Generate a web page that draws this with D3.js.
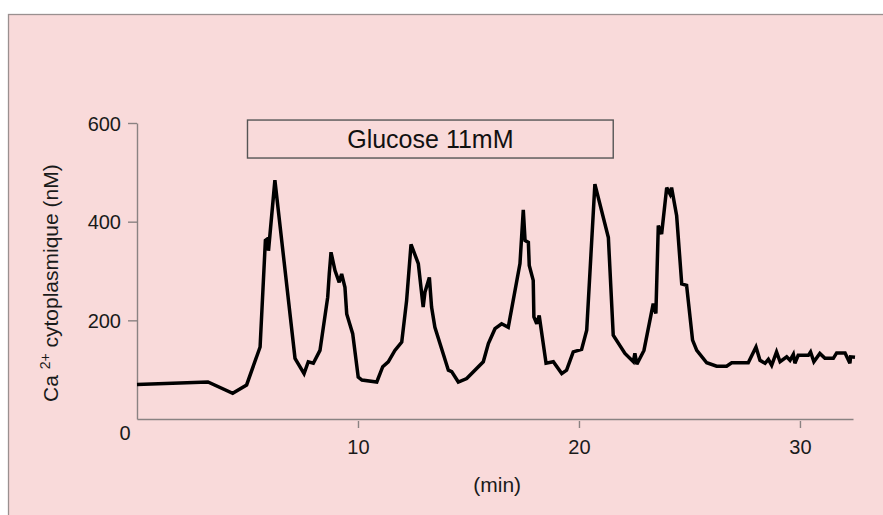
<!DOCTYPE html>
<html lang="fr">
<head>
  <meta charset="UTF-8">
  <title>Ca2+ cytoplasmique</title>
  <script src="https://d3js.org/d3.v7.min.js"></script>
  <style>
    body {
      margin: 0;
      background-color: white;
      font-family: "Liberation Sans", Arial, Helvetica, sans-serif;
    }
    .trace {
      fill: none;
      stroke: black;
      stroke-width: 3.5px;
      stroke-linejoin: miter;
      stroke-miterlimit: 3;
    }
    .axis path, .axis line {
      stroke: #8a8282;
      stroke-width: 1.4px;
    }
    .axis text {
      font-size: 20px;
      fill: #1a1a1a;
      font-family: "Liberation Sans", Arial, Helvetica, sans-serif;
    }
    .label {
      font-size: 21px;
      fill: #1a1a1a;
    }
  </style>
</head>
<body>
  <svg width="883" height="515"></svg>
  <script>
    // time (min) and cytoplasmic Ca2+ (nM)
    const timeMin = [0, 3.21, 4.33, 4.96, 5.57, 5.81, 5.93, 5.95, 6.24, 7.15, 7.56, 7.75, 7.98, 8.28, 8.63, 8.70, 8.78, 8.96, 9.15, 9.26,
      9.41, 9.49, 9.76, 10.01, 10.18, 10.85, 11.12, 11.37, 11.67, 11.98, 12.20, 12.40, 12.73, 12.95, 13.03, 13.23, 13.33, 13.48, 14.09, 14.24,
      14.54, 14.92, 15.67, 15.90, 16.20, 16.50, 16.80, 17.33, 17.48, 17.56, 17.71, 17.75, 17.93, 17.96, 18.09, 18.20, 18.51, 18.84, 19.22, 19.44,
      19.74, 20.12, 20.35, 20.72, 21.33, 21.55, 22.08, 22.46, 22.53, 22.62, 22.94, 23.36, 23.48, 23.59, 23.74, 23.97, 24.12, 24.19, 24.42, 24.65,
      24.87, 25.14, 25.33, 25.78, 26.23, 26.68, 26.91, 27.66, 28.01, 28.19, 28.42, 28.57, 28.72, 28.94, 29.10, 29.40, 29.55, 29.70, 29.77, 29.92,
      30.38, 30.48, 30.63, 30.90, 31.13, 31.51, 31.66, 32.04, 32.26, 32.29, 32.49];
    const caNM = [70, 75, 52, 69, 146, 362, 366, 341, 484, 123, 92, 116, 113, 139, 247, 294, 338, 301, 277, 294,
      267, 213, 173, 85, 79, 75, 106, 116, 139, 156, 240, 354, 315, 227, 257, 287, 227, 186, 99, 96,
      75, 82, 116, 153, 183, 193, 186, 315, 424, 362, 358, 311, 281, 207, 193, 210, 113, 116, 92, 99,
      136, 141, 180, 476, 368, 170, 133, 116, 133, 111, 139, 234, 214, 392, 375, 469, 456, 469, 412, 274,
      271, 160, 139, 114, 107, 107, 114, 114, 146, 119, 113, 121, 109, 136, 116, 126, 119, 131, 113, 129,
      129, 136, 116, 133, 123, 123, 134, 134, 113, 126, 125];

    const xTicks = [10, 20, 30];
    const yTicks = [200, 400, 600];
    const originLabel = "0";
    const glucoseStart = 5, glucoseEnd = 21.55;
    const glucoseLabel = "Glucose 11mM";

    const svg = d3.select("svg");

    // pink panel
    svg.append("rect")
      .attr("x", 8.5).attr("y", 14.5)
      .attr("width", 880).attr("height", 510)
      .attr("fill", "#f9dada")
      .attr("stroke", "#9a9090")
      .attr("stroke-width", 1.3);

    const x = d3.scaleLinear().domain([0, 32.4]).range([137, 853]);
    const y = d3.scaleLinear().domain([0, 600]).range([419, 123]);

    // y axis
    const yAxis = svg.append("g").attr("class", "axis")
      .attr("transform", "translate(137,0)")
      .call(d3.axisLeft(y).tickValues(yTicks).tickSize(9).tickSizeOuter(0).tickPadding(7));
    yAxis.selectAll("text").attr("dy", "0.35em");

    // x axis
    const xAxis = svg.append("g").attr("class", "axis")
      .attr("transform", `translate(0,${y(0)})`)
      .call(d3.axisBottom(x).tickValues(xTicks).tickSize(9).tickSizeOuter(0).tickPadding(12));
    xAxis.selectAll(".tick line").attr("y1", 2);

    svg.append("text")
      .attr("class", "label")
      .attr("x", x(0) - 12)
      .attr("y", y(0) + 21)
      .attr("text-anchor", "middle")
      .style("font-size", "20px")
      .text(originLabel);

    // axis titles
    svg.append("text")
      .attr("class", "label")
      .attr("x", x(16.3))
      .attr("y", 492)
      .attr("text-anchor", "middle")
      .text("(min)");

    const yl = svg.append("text")
      .attr("class", "label")
      .attr("transform", "translate(58,402) rotate(-90)")
      .attr("text-anchor", "start");
    yl.append("tspan").text("Ca ");
    yl.append("tspan").attr("dy", -8).style("font-size", "14px").text("2+");
    yl.append("tspan").attr("dy", 8).text(" cytoplasmique (nM)");

    // glucose bar
    svg.append("rect")
      .attr("x", x(glucoseStart)).attr("y", y(606))
      .attr("width", x(glucoseEnd) - x(glucoseStart))
      .attr("height", y(529) - y(606))
      .attr("fill", "none")
      .attr("stroke", "#555")
      .attr("stroke-width", 1.4);
    svg.append("text")
      .attr("x", (x(glucoseStart) + x(glucoseEnd)) / 2)
      .attr("y", (y(606) + y(529)) / 2 + 9)
      .attr("text-anchor", "middle")
      .style("font-size", "25px")
      .attr("fill", "#111")
      .text(glucoseLabel);

    // trace
    const pts = timeMin.map((t, i) => [t, caNM[i]]);
    const line = d3.line().x(d => x(d[0])).y(d => y(d[1]));
    svg.append("path").datum(pts).attr("class", "trace").attr("d", line);
  </script>
</body>
</html>
